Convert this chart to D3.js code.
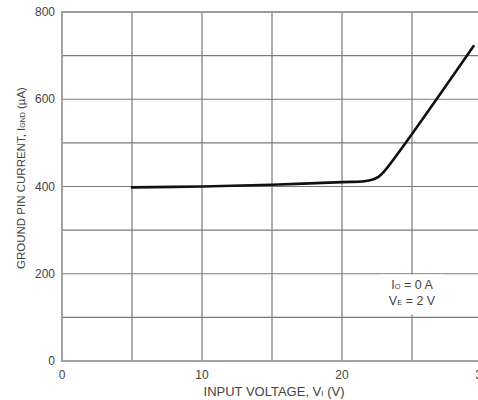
<!DOCTYPE html>
<html><head><meta charset="utf-8">
<script src="https://cdn.jsdelivr.net/npm/d3@7"></script>
<style>body{margin:0;background:#fff}svg{display:block}text{font-family:"Liberation Sans",Arial,sans-serif;fill:#444}</style>
</head><body><svg id="c" width="478" height="400"></svg>
<script>
const voltage = [5, 10, 15, 20, 21.6, 22.2, 22.6, 23.0, 29.4];
const current = [398, 400, 404, 410, 412, 416, 422, 434, 722];
const yTicks = [0, 200, 400, 600, 800];
const xTicks = [0, 10, 20, 30];
const xGrid = [5, 10, 15, 20, 25, 30];
const yGrid = [100, 200, 300, 400, 500, 600, 700, 800];

const svg = d3.select("#c");
const x = d3.scaleLinear().domain([0, 30]).range([62, 482]);
const y = d3.scaleLinear().domain([0, 800]).range([361, 12]);

const g = svg.append("g");
g.selectAll(".vg").data(xGrid).join("line")
  .attr("x1", d => x(d)).attr("x2", d => x(d)).attr("y1", y(0)).attr("y2", y(800))
  .attr("stroke", "#7a7a7a").attr("stroke-width", 1.2);
g.selectAll(".hg").data(yGrid).join("line")
  .attr("x1", x(0)).attr("x2", x(30)).attr("y1", d => y(d)).attr("y2", d => y(d))
  .attr("stroke", "#7a7a7a").attr("stroke-width", 1.2);
// frame
g.append("rect").attr("x", x(0)).attr("y", y(800)).attr("width", x(30) - x(0)).attr("height", y(0) - y(800))
  .attr("fill", "none").attr("stroke", "#999").attr("stroke-width", 1.8);

// annotation background
const ax = x(25), ay = 289;
svg.append("rect").attr("x", ax - 33).attr("y", 274.5).attr("width", 66).attr("height", 40).attr("fill", "#fff");
const ann = svg.append("text").attr("text-anchor", "middle").attr("font-size", 12.5);
const t1 = ann.append("tspan").attr("x", ax).attr("y", ay);
t1.append("tspan").text("I");
t1.append("tspan").attr("font-size", 7.5).text("O");
t1.append("tspan").text(" = 0 A");
const t2 = ann.append("tspan").attr("x", ax).attr("y", ay + 16);
t2.append("tspan").text("V");
t2.append("tspan").attr("font-size", 7.5).text("E");
t2.append("tspan").text(" = 2 V");

// line
const line = d3.line().x((d, i) => x(voltage[i])).y(d => y(d)).curve(d3.curveCatmullRom.alpha(0.5));
svg.append("path").attr("d", line(current)).attr("fill", "none").attr("stroke", "#111").attr("stroke-width", 2.6)
  .attr("stroke-linejoin", "round").attr("stroke-linecap", "round");

// tick labels
svg.selectAll(".yl").data(yTicks).join("text")
  .attr("x", 55).attr("y", d => y(d) + 4).attr("text-anchor", "end").attr("font-size", 12).text(d => d);
svg.selectAll(".xl").data(xTicks).join("text")
  .attr("x", d => x(d)).attr("y", 379).attr("text-anchor", "middle").attr("font-size", 12).text(d => d);

// axis titles
const xt = svg.append("text").attr("x", 274).attr("y", 396).attr("text-anchor", "middle").attr("font-size", 13);
xt.append("tspan").text("INPUT VOLTAGE, V");
xt.append("tspan").attr("font-size", 8).text("I");
xt.append("tspan").text(" (V)");

const yt = svg.append("text").attr("transform", "translate(25,178) rotate(-90)").attr("text-anchor", "middle").attr("font-size", 11.5);
yt.append("tspan").text("GROUND PIN CURRENT, I");
yt.append("tspan").attr("font-size", 7).text("GND");
yt.append("tspan").text(" (µA)");
</script></body></html>
